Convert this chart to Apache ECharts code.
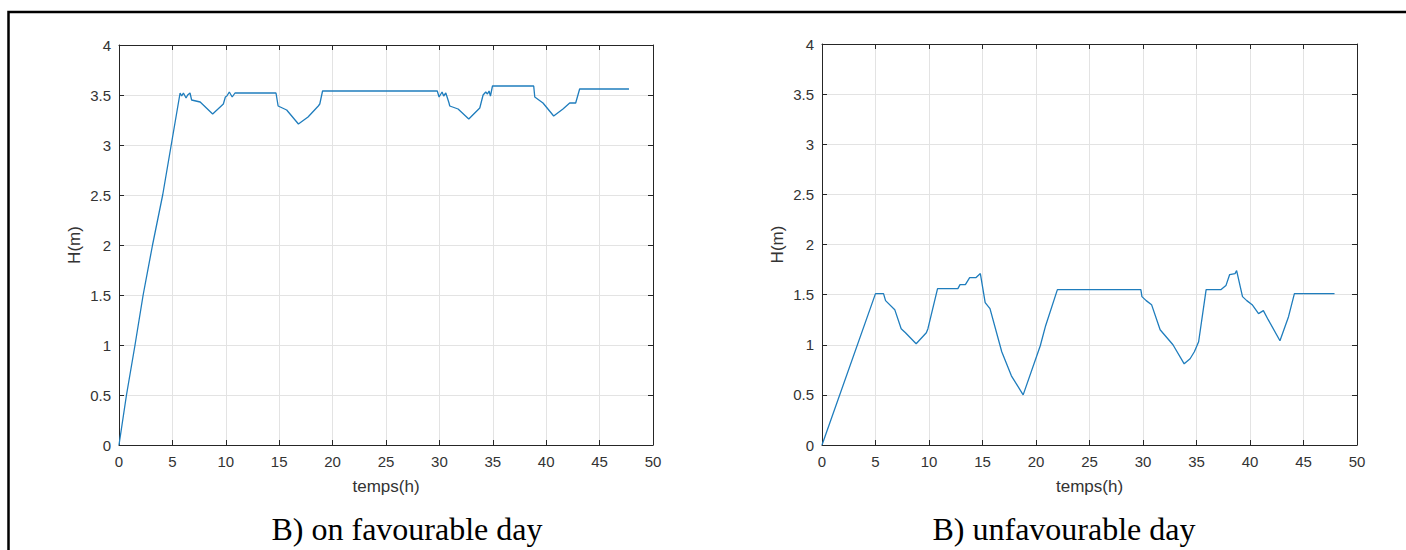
<!DOCTYPE html>
<html>
<head>
<meta charset="utf-8">
<script src="https://cdn.jsdelivr.net/npm/echarts@6/dist/echarts.min.js"></script>
<style>
html,body{margin:0;padding:0;background:#fff;}
#chart{width:1406px;height:550px;}
</style>
</head>
<body>
<div id="chart"></div>
<script>
// ---- Data ----
const favTime = [0,0.7,1.5,2.26,3.14,4.09,5.72,5.87,6.03,6.28,6.43,6.65,6.8,7.6,8.77,9.77,9.96,10.1,10.33,10.6,10.86,14.7,14.9,15.7,16.8,17.7,18.66,18.8,19.06,29.8,29.97,30.25,30.4,30.6,30.9,30.97,31.75,32.75,33.78,34.09,34.34,34.5,34.65,34.78,34.97,38.83,38.93,39.7,40.7,41.57,42.2,42.76,43.13,47.75];
const favHeight = [0,0.5,1.0,1.5,2.0,2.5,3.52,3.49,3.52,3.47,3.50,3.52,3.45,3.43,3.31,3.41,3.48,3.49,3.53,3.48,3.52,3.52,3.39,3.35,3.21,3.28,3.39,3.41,3.54,3.54,3.48,3.53,3.49,3.52,3.42,3.39,3.36,3.26,3.37,3.50,3.53,3.51,3.54,3.49,3.59,3.59,3.48,3.42,3.29,3.36,3.42,3.42,3.56,3.56];

const unfavTime = [0,5,5.75,5.94,6.8,7.4,7.8,8.8,9.75,9.9,10.8,12.7,12.9,13.4,13.8,14.4,14.8,15.25,15.7,16.8,17.7,18.8,20.4,20.9,22.0,29.8,29.9,30.3,30.8,31.6,32.0,32.8,33.85,34.4,34.8,35.2,35.9,37.3,37.75,38.1,38.6,38.75,39.3,39.7,40.2,40.8,41.25,41.7,42.8,43.6,44.15,47.9];
const unfavHeight = [0,1.51,1.51,1.44,1.35,1.16,1.12,1.01,1.12,1.16,1.56,1.56,1.60,1.60,1.67,1.67,1.71,1.42,1.36,0.93,0.69,0.50,0.99,1.19,1.55,1.55,1.48,1.44,1.40,1.15,1.10,1.00,0.81,0.86,0.93,1.03,1.55,1.55,1.59,1.70,1.71,1.74,1.48,1.44,1.40,1.31,1.34,1.25,1.04,1.28,1.51,1.51];

const xTitle = 'temps(h)';
const yTitle = 'H(m)';
const captions = ['B) on favourable day', 'B) unfavourable day'];

// ---- Chart ----
const AXIS = '#262626';
const LABEL = '#333333';
const GRIDC = '#e3e3e3';
const SANS = 'Liberation Sans, Arial, sans-serif';

function pairs(xs, ys){ return xs.map((x,i)=>[x, ys[i]]); }

const grids = [
  {left:119, top:45, width:534, height:400},
  {left:822, top:44, width:535, height:401}
];

const xAxes = [], yAxes = [];
grids.forEach((g, gi) => {
  xAxes.push({
    type:'value', gridIndex:gi, min:0, max:50, interval:5, position:'bottom',
    name:xTitle, nameLocation:'middle', nameGap:33,
    nameTextStyle:{color:LABEL, fontFamily:SANS, fontSize:17},
    axisLine:{show:true, onZero:false, lineStyle:{color:AXIS, width:1}},
    axisTick:{show:true, inside:true, length:5, lineStyle:{color:AXIS}},
    axisLabel:{color:LABEL, fontFamily:SANS, fontSize:15, margin:9},
    splitLine:{show:true, lineStyle:{color:GRIDC, width:1}}
  });
  xAxes.push({
    type:'value', gridIndex:gi, min:0, max:50, interval:5, position:'top',
    axisLine:{show:true, onZero:false, lineStyle:{color:AXIS, width:1}},
    axisTick:{show:true, inside:true, length:5, lineStyle:{color:AXIS}},
    axisLabel:{show:false}, splitLine:{show:false}
  });
  yAxes.push({
    type:'value', gridIndex:gi, min:0, max:4, interval:0.5, position:'left',
    name:yTitle, nameLocation:'middle', nameGap:36, nameRotate:90,
    nameTextStyle:{color:LABEL, fontFamily:SANS, fontSize:17},
    axisLine:{show:true, onZero:false, lineStyle:{color:AXIS, width:1}},
    axisTick:{show:true, inside:true, length:5, lineStyle:{color:AXIS}},
    axisLabel:{color:LABEL, fontFamily:SANS, fontSize:15, margin:8},
    splitLine:{show:true, lineStyle:{color:GRIDC, width:1}}
  });
  yAxes.push({
    type:'value', gridIndex:gi, min:0, max:4, interval:0.5, position:'right',
    axisLine:{show:true, onZero:false, lineStyle:{color:AXIS, width:1}},
    axisTick:{show:true, inside:true, length:5, lineStyle:{color:AXIS}},
    axisLabel:{show:false}, splitLine:{show:false}
  });
});

const lineStyle = {color:'#1f7dbd', width:1.3};
const option = {
  animation:false,
  backgroundColor:'#ffffff',
  grid: grids,
  xAxis: xAxes,
  yAxis: yAxes,
  series: [
    {type:'line', xAxisIndex:0, yAxisIndex:0, data:pairs(favTime, favHeight), showSymbol:false, lineStyle:lineStyle, itemStyle:{color:'#1f7dbd'}},
    {type:'line', xAxisIndex:2, yAxisIndex:2, data:pairs(unfavTime, unfavHeight), showSymbol:false, lineStyle:lineStyle, itemStyle:{color:'#1f7dbd'}}
  ],
  graphic: [
    {type:'rect', shape:{x:8.5, y:12, width:1405, height:545}, style:{fill:'none', stroke:'#000', lineWidth:2.5}, silent:true},
    {type:'text', x:407, y:529, style:{text:captions[0], font:'32px "Liberation Serif", "Times New Roman", serif', fill:'#000', textAlign:'center', textVerticalAlign:'middle'}},
    {type:'text', x:1064, y:529, style:{text:captions[1], font:'32px "Liberation Serif", "Times New Roman", serif', fill:'#000', textAlign:'center', textVerticalAlign:'middle'}}
  ]
};

const chart = echarts.init(document.getElementById('chart'), null, {renderer:'svg'});
chart.setOption(option);
</script>
</body>
</html>
